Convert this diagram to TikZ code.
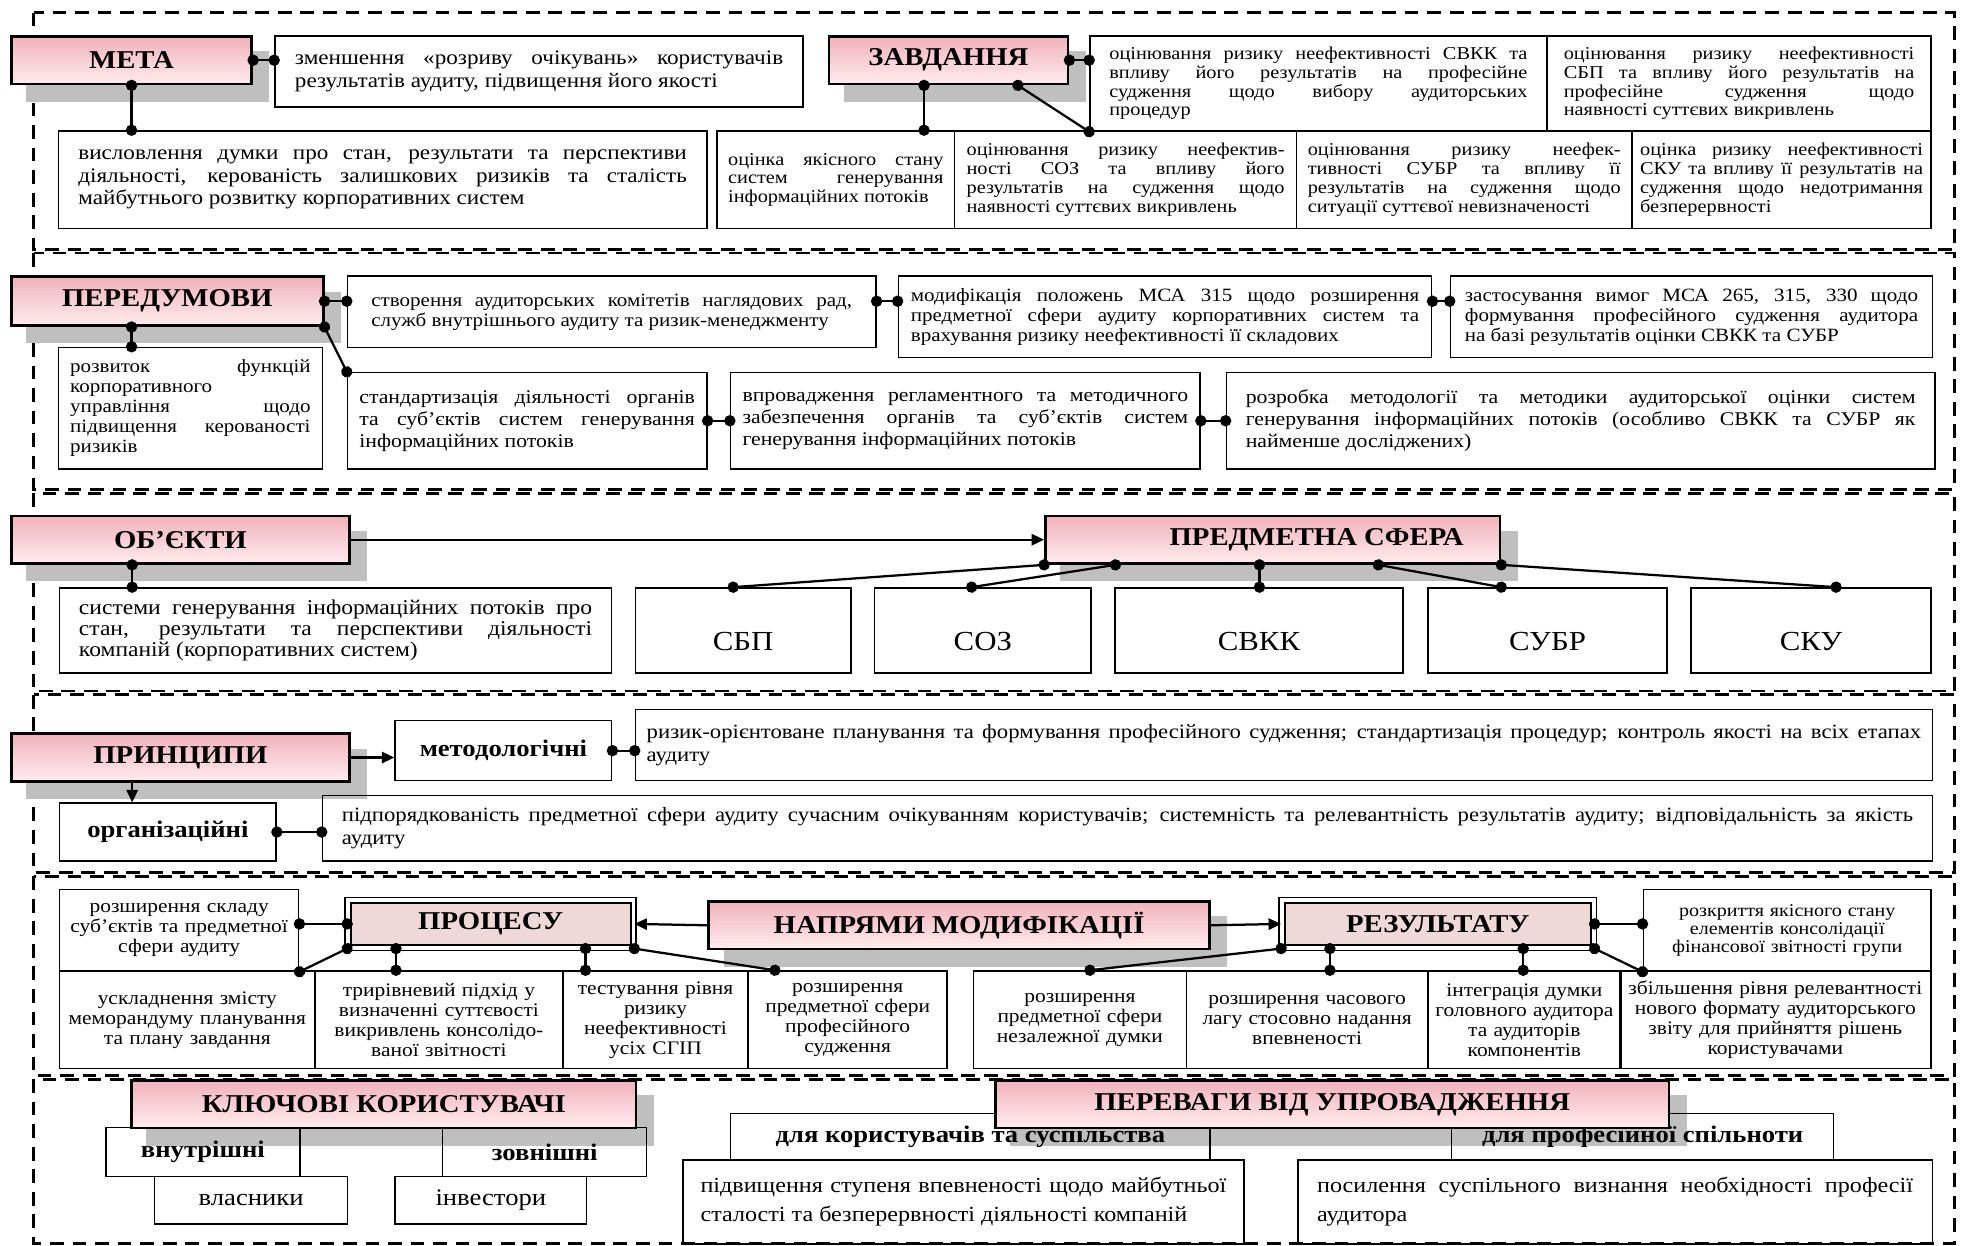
\documentclass[tikz,border=0pt]{standalone}
\usepackage{fontspec}
\setmainfont{Liberation Serif}[FakeStretch=1.12]
\usetikzlibrary{arrows.meta}
\definecolor{pinktop}{RGB}{240,178,188}
\definecolor{pinkbot}{RGB}{255,236,239}
\definecolor{pinkbox}{RGB}{239,216,216}
\definecolor{shadowgray}{RGB}{191,191,191}
\pgfdeclarelayer{bg}
\pgfsetlayers{bg,main}
\hyphenpenalty=10000
\exhyphenpenalty=10000
\tolerance=10000
\hbadness=10000
\newcommand\fsHead{\fontsize{20.5}{22}\selectfont\bfseries}
\newcommand\fsA{\fontsize{16.5}{18}\selectfont}
\newcommand\fsB{\fontsize{14.5}{15}\selectfont}
\newcommand\fsC{\fontsize{15}{16}\selectfont}
\newcommand\fsD{\fontsize{15.5}{17.5}\selectfont}
\newcommand\fsE{\fontsize{16.8}{17}\selectfont}
\newcommand\fsBig{\fontsize{22}{24}\selectfont}
\newcommand\fsF{\fontsize{16.2}{18}\selectfont}
\newcommand\fsG{\fontsize{15.3}{16}\selectfont}
\newcommand\fsH{\fontsize{14.3}{14.5}\selectfont}
\newcommand\fsI{\fontsize{17.2}{23}\selectfont}
\newcommand\fsJ{\fontsize{19}{21}\selectfont}
\tikzset{
	secframe/.style={line width=2.2pt, dash pattern=on 11pt off 7pt},
	head/.style={draw, line width=2.2pt, top color=pinktop, bottom color=pinkbot, anchor=north west, inner sep=0pt, font=\fsHead},
	cell/.style={draw, line width=1.2pt, anchor=north west, inner xsep=2pt, inner ysep=2pt, align=justify},
	midcell/.style={cell, align=center},
	sysbox/.style={draw, line width=1.2pt, anchor=north west, font=\fsBig, text height=32pt, text depth=0pt},
	lab/.style={draw, line width=1.2pt, anchor=north west, inner sep=2pt},
	sz/.style n args={3}{minimum width=#1pt, minimum height=#2pt, text width=#3pt},
	box/.style 2 args={minimum width=#1pt, minimum height=#2pt},
	twin/.style={draw, double=white, double distance=3pt, line width=1.4pt, fill=pinkbox, inner sep=0pt, font=\fsHead},
	link/.style={line width=1.8pt, {Circle[length=9pt]}-{Circle[length=9pt]}, shorten <=-4.5pt, shorten >=-4.5pt},
	arr/.style={line width=1.8pt, -{Triangle[length=10pt, width=9pt]}}
}
\begin{document}
\begin{tikzpicture}[x=1pt, y=-1pt]
	\useasboundingbox (0, 0) rectangle (1568, 995);

	\node[cell, sz={422}{57}{390}, font=\fsA] (zmen) at (219, 28) {зменшення «розриву очікувань» користувачів\linebreak результатів аудиту, підвищення його якості};
	\node[cell, sz={518}{78}{486}, font=\fsA] (vysl) at (46, 104) {висловлення думки про стан, результати та перспективи\linebreak діяльності, керованість залишкових ризиків та сталість\linebreak майбутнього розвитку корпоративних систем};
	\node[cell, sz={365}{76}{334}, font=\fsB] (tsvkk) at (870, 28) {оцінювання ризику неефективності СВКК та\linebreak впливу його результатів на професійне\linebreak судження щодо вибору аудиторських\linebreak процедур};
	\node[cell, sz={307}{76}{280}, font=\fsB] (tsbp) at (1235, 28) {оцінювання ризику неефективності\linebreak СБП та впливу його результатів на\linebreak професійне судження щодо\linebreak наявності суттєвих викривлень};
	\node[cell, sz={190}{78}{172}, font=\fsB] (tstan) at (572, 104) {оцінка якісного стану\linebreak систем генерування\linebreak інформаційних потоків};
	\node[cell, sz={273}{78}{254}, font=\fsB] (tsoz) at (762, 104) {оцінювання ризику неефектив-\linebreak ності СОЗ та впливу його\linebreak результатів на судження щодо\linebreak наявності суттєвих викривлень};
	\node[cell, sz={268}{78}{250}, font=\fsB] (tsubr) at (1035, 104) {оцінювання ризику неефек-\linebreak тивності СУБР та впливу її\linebreak результатів на судження щодо\linebreak ситуації суттєвої невизначеності};
	\node[cell, sz={239}{78}{226}, font=\fsB] (tsku) at (1303, 104) {оцінка ризику неефективності\linebreak СКУ та впливу її результатів на\linebreak судження щодо недотримання\linebreak безперервності};

	\node[cell, sz={422}{57}{384}, font=\fsC] (pkom) at (277, 220) {створення аудиторських комітетів наглядових рад,\linebreak служб внутрішнього аудиту та ризик-менеджменту};
	\node[cell, sz={426}{65}{406}, font=\fsC] (pmod) at (717, 220) {модифікація положень МСА 315 щодо розширення\linebreak предметної сфери аудиту корпоративних систем та\linebreak врахування ризику неефективності її складових};
	\node[cell, sz={385}{65}{362}, font=\fsC] (pzast) at (1158, 220) {застосування вимог МСА 265, 315, 330 щодо\linebreak формування професійного судження аудитора\linebreak на базі результатів оцінки СВКК та СУБР};
	\node[cell, sz={211}{97}{192}, font=\fsC] (prozv) at (46, 277) {розвиток функцій\linebreak корпоративного\linebreak управління щодо\linebreak підвищення керованості\linebreak ризиків};
	\node[cell, sz={287}{77}{268}, font=\fsD] (pstand) at (277, 297) {стандартизація діяльності органів\linebreak та суб’єктів систем генерування\linebreak інформаційних потоків};
	\node[cell, sz={375}{77}{356}, font=\fsD] (pvprov) at (583, 297) {впровадження регламентного та методичного\linebreak забезпечення органів та суб’єктів систем\linebreak генерування інформаційних потоків};
	\node[cell, sz={566}{77}{535}, font=\fsD] (prozr) at (979, 297) {розробка методології та методики аудиторської оцінки систем\linebreak генерування інформаційних потоків (особливо СВКК та СУБР як\linebreak найменше досліджених)};

	\node[cell, sz={441}{68}{410}, font=\fsE] (osys) at (47, 469) {системи генерування інформаційних потоків про\linebreak стан, результати та перспективи діяльності\linebreak компаній (корпоративних систем)};
	\node[sysbox, box={172}{68}] (csbp) at (507, 469) {СБП};
	\node[sysbox, box={173}{68}] (csoz) at (698, 469) {СОЗ};
	\node[sysbox, box={230}{68}] (csvkk) at (890, 469) {СВКК};
	\node[sysbox, box={191}{68}] (csubr) at (1140, 469) {СУБР};
	\node[sysbox, box={192}{68}] (csku) at (1350, 469) {СКУ};

	\node[lab, box={173}{48}, font=\fsJ\bfseries] (pmet) at (315, 575) {методологічні};
	\node[cell, sz={1036}{57}{1018}, font=\fsF] (pmtxt) at (507, 566) {ризик-орієнтоване планування та формування професійного судження; стандартизація процедур; контроль якості на всіх етапах\linebreak аудиту};
	\node[lab, box={173}{46}, font=\fsJ\bfseries] (porg) at (47, 641) {організаційні};
	\node[cell, sz={1286}{52}{1255}, font=\fsF] (potxt) at (257, 635) {підпорядкованість предметної сфери аудиту сучасним очікуванням користувачів; системність та релевантність результатів аудиту; відповідальність за якість\linebreak аудиту};

	\node[midcell, sz={191}{65}{182}, font=\fsG] (mskl) at (47, 710) {розширення складу\\суб’єктів та предметної\\сфери аудиту};
	\node[midcell, sz={204}{78}{196}, font=\fsG] (muskl) at (47, 775) {ускладнення змісту\\меморандуму планування\\та плану завдання};
	\node[midcell, sz={198}{78}{190}, font=\fsG] (mtrir) at (251, 775) {трирівневий підхід у\\визначенні суттєвості\\викривлень консолідо-\\ваної звітності};
	\node[midcell, sz={148}{78}{140}, font=\fsG] (mtest) at (449, 775) {тестування рівня\\ризику\\неефективності\\усіх СГІП};
	\node[midcell, sz={159}{78}{150}, font=\fsG] (mprof) at (597, 775) {розширення\\предметної сфери\\професійного\\судження};
	\node[midcell, sz={230}{65}{220}, font=\fsH] (nrozkr) at (1312, 710) {розкриття якісного стану\\елементів консолідації\\фінансової звітності групи};
	\node[midcell, sz={170}{78}{160}, font=\fsG] (nnez) at (777, 775) {розширення\\предметної сфери\\незалежної думки};
	\node[midcell, sz={193}{78}{185}, font=\fsG] (nchas) at (947, 775) {розширення часового\\лагу стосовно надання\\впевненості};
	\node[midcell, sz={153}{78}{150}, font=\fsG] (nintegr) at (1140, 775) {інтеграція думки\\головного аудитора\\та аудиторів\\компонентів};
	\node[midcell, sz={249}{78}{240}, font=\fsG] (nrelev) at (1293, 775) {збільшення рівня релевантності\\нового формату аудиторського\\звіту для прийняття рішень\\користувачами};
	\node[twin, box={228}{38}] (proc) at (392, 738) {ПРОЦЕСУ};
	\node[twin, box={249}{38}] (res) at (1148.5, 738) {РЕЗУЛЬТАТУ};

	\node[lab, box={155}{39}, font=\fsJ\bfseries] (vnutr) at (84, 900) {внутрішні};
	\node[lab, box={163}{39}, font=\fsJ\bfseries] (zovn) at (353, 900) {зовнішні};
	\node[lab, box={154}{38}, font=\fsJ] (vlasn) at (123, 939) {власники};
	\node[lab, box={153}{38}, font=\fsJ] (invest) at (315, 939) {інвестори};
	\node[lab, box={383}{37}, font=\fsJ\bfseries] (dlkor) at (583, 889) {для користувачів та суспільства};
	\node[lab, box={305}{37}, font=\fsJ\bfseries] (dlprof) at (1159, 889) {для професійної спільноти};
	\node[cell, sz={448}{67}{420}, font=\fsI] (pidv) at (545, 926) {підвищення ступеня впевненості щодо майбутньої\linebreak сталості та безперервності діяльності компаній};
	\node[cell, sz={507}{67}{476}, font=\fsI] (posyl) at (1036, 926) {посилення суспільного визнання необхідності професії\linebreak аудитора};

	\node[head, box={192}{38}] (meta) at (8, 28) {МЕТА};
	\node[head, box={191}{38}] (zavd) at (661, 28) {ЗАВДАННЯ};
	\node[head, box={249}{39}] (pered) at (8, 220) {ПЕРЕДУМОВИ};
	\node[head, box={270}{38}] (obj) at (8, 411) {ОБ’ЄКТИ};
	\node[head, box={363}{38}] (pred) at (834, 411) {\hspace*{70pt}ПРЕДМЕТНА СФЕРА};
	\node[head, box={270}{38}] (princ) at (8, 585) {ПРИНЦИПИ};
	\node[head, box={400}{38}] (napr) at (565, 719) {НАПРЯМИ МОДИФІКАЦІЇ};
	\node[head, box={403}{38}] (kluch) at (104, 862) {КЛЮЧОВІ КОРИСТУВАЧІ};
	\node[head, box={538}{38}] (perev) at (794, 862) {ПЕРЕВАГИ ВІД УПРОВАДЖЕННЯ};

	\draw[link] (meta.east) -- (zmen.west |- meta.east);
	\draw[link] (meta.south) -- (meta.south |- vysl.north);
	\draw[link] (zavd.east) -- (tsvkk.west |- zavd.east);
	\draw[link] ([xshift=-19.5pt]zavd.south) -- ([xshift=-19.5pt]zavd.south |- tstan.north);
	\draw[link] ([xshift=55.5pt]zavd.south) -- (tsvkk.south west);

	\draw[link] (pered.east) -- (pkom.west |- pered.east);
	\draw[link] (pkom.east |- pered.east) -- (pmod.west |- pered.east);
	\draw[link] (pmod.east |- pered.east) -- (pzast.west |- pered.east);
	\draw[link] ([xshift=-28.5pt]pered.south) -- ([xshift=-28.5pt]pered.south |- prozv.north);
	\draw[link] (pered.south east) -- (pstand.north west);
	\draw[link] (pstand.east) -- (pvprov.west);
	\draw[link] (pvprov.east) -- (prozr.west);

	\draw[link] ([xshift=-38.5pt]obj.south) -- ([xshift=-38.5pt]obj.south |- osys.north);
	\draw[arr] (obj.east) -- (pred.west);
	\draw[link] (pred.south west) -- ([xshift=-8pt]csbp.north);
	\draw[link] ([xshift=57pt]pred.south west) -- ([xshift=-9pt]csoz.north);
	\draw[link] ([xshift=172pt]pred.south west) -- ([xshift=172pt]pred.south west |- csvkk.north);
	\draw[link] ([xshift=267pt]pred.south west) -- (csubr.north -| pred.south east);
	\draw[link] (pred.south east) -- ([xshift=20pt]csku.north);

	\draw[arr] (princ.east) -- (pmet.west |- princ.east);
	\draw[link] (pmet.east) -- (pmtxt.west |- pmet.east);
	\draw[arr] ([xshift=-38.5pt]princ.south) -- ([xshift=-38.5pt]princ.south |- porg.north);
	\draw[link] (porg.east) -- (potxt.west |- porg.east);

	\draw[arr] (napr.west) -- (proc.east);
	\draw[arr] (napr.east) -- (res.west);
	\draw[link] (proc.west) -- (mskl.east |- proc.west);
	\draw[link] (proc.south west) -- (mskl.south east);
	\draw[link] ([xshift=39pt]proc.south west) -- ([xshift=39pt]proc.south west |- mtrir.north);
	\draw[link] ([xshift=-39pt]proc.south east) -- ([xshift=-39pt]proc.south east |- mtest.north);
	\draw[link] (proc.south east) -- ([xshift=22pt]mprof.north west);
	\draw[link] (res.east) -- (nrozkr.west |- res.east);
	\draw[link] (res.south west) -- ([xshift=8pt]nnez.north);
	\draw[link] ([xshift=39pt]res.south west) -- ([xshift=39pt]res.south west |- nchas.north);
	\draw[link] ([xshift=-57pt]res.south east) -- ([xshift=-57pt]res.south east |- nintegr.north);
	\draw[link] (res.south east) -- (nrozkr.south west);

	\begin{pgfonlayer}{bg}
		\draw[secframe] (27, 10) rectangle (1561, 199);
		\draw[secframe] (27, 202) rectangle (1561, 391);
		\draw[secframe] (27, 394) rectangle (1561, 552);
		\draw[secframe] (27, 555) rectangle (1561, 697);
		\draw[secframe] (27, 700) rectangle (1561, 859);
		\draw[secframe] (27, 862) rectangle (1561, 993);
		\foreach \h in {meta, zavd, pered, obj, pred, princ, napr, kluch, perev}
			\fill[shadowgray] ([shift={(13, 13)}]\h.north west) rectangle ([shift={(13, 13)}]\h.south east);
	\end{pgfonlayer}
\end{tikzpicture}
\end{document}
